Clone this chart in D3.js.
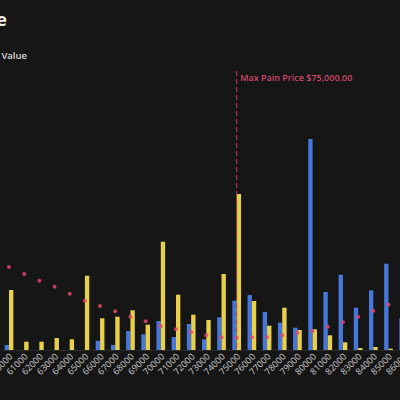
<!DOCTYPE html>
<html><head><meta charset="utf-8">
<script src="https://cdn.jsdelivr.net/npm/d3@7"></script>
<style>html,body{margin:0;padding:0;background:#161616;overflow:hidden}</style>
</head><body>
<svg id="c" width="400" height="400"></svg>
<script>
const strikes = [60000,61000,62000,63000,64000,65000,66000,67000,68000,69000,70000,71000,72000,73000,74000,75000,76000,77000,78000,79000,80000,81000,82000,83000,84000,85000,86000];
const callValues = [5,0,0,0,0,0,9.3,5,19,15.7,29,13,26,10.7,32.7,49.3,55,38,27.3,22.3,211,58,75.3,42.3,59.7,86.3,31.7];
const putValues = [60,8.3,8.3,12,10.7,74.3,31.7,33.3,39.7,25.3,108.3,55.3,35.3,30,76,156,49,24.3,42.3,20,20.7,14.7,7.7,2,3,1.3,1];
const painValues = [8.3,7.6,6.93,6.33,5.63,4.93,4.4,3.87,3.33,2.87,2.4,2.07,1.77,1.47,1.27,1.23,1.27,1.27,1.47,1.7,1.9,2.33,2.77,3.33,3.93,4.53,5.1];
const maxPain = 75000;
const titleText = "Open Interest By Strike Price";
const subtitleText = "Total Notional Value";
const maxPainLabel = "Max Pain Price $75,000.00";

const svg = d3.select("#c");
const W = 400, H = 400, base = 350;
svg.append("rect").attr("width", W).attr("height", H).attr("fill", "#161616");

const x = d3.scaleBand().domain(strikes).range([1.41, 411.27]).paddingInner(0.427).paddingOuter(0.2135);
const bw = x.bandwidth();
const xs = d3.scaleBand().domain(["calls","puts"]).range([0, bw]);
const y = d3.scaleLinear().domain([0, 250]).range([base, 100]);
const y2 = d3.scaleLinear().domain([0, 25]).range([base, 100]);

// title
svg.append("text").attr("x", 7).attr("y", 26).attr("text-anchor", "end")
  .attr("font-family", "Open Sans").attr("font-weight", 700).attr("font-size", 18)
  .attr("fill", "#f2f2f2").text(titleText);
svg.append("text").attr("x", 27).attr("y", 59).attr("text-anchor", "end")
  .attr("font-family", "Open Sans").attr("font-weight", 600).attr("font-size", 9.5)
  .attr("fill", "#dcdcdc").text(subtitleText);

// axis
const ax = svg.append("g").attr("transform", `translate(0,${base})`)
  .call(d3.axisBottom(x).tickSize(0).tickFormat(d => String(d)));
ax.select(".domain").attr("stroke", "#2a2a2a");
ax.selectAll("text")
  .attr("font-family", "Open Sans").attr("font-size", 9).attr("fill", "#c8c8c8")
  .attr("text-anchor", "end").attr("x", 0).attr("y", 0).attr("dy", "0.35em")
  .attr("transform", "translate(2,5) rotate(-45)");

// bars
const g = svg.append("g");
g.selectAll("rect.c").data(strikes).join("rect").attr("class", "c")
  .attr("x", d => x(d) + xs("calls")).attr("width", xs.bandwidth())
  .attr("y", (d,i) => y(callValues[i])).attr("height", (d,i) => base - y(callValues[i]))
  .attr("fill", "#4677d9");
g.selectAll("rect.p").data(strikes).join("rect").attr("class", "p")
  .attr("x", d => x(d) + xs("puts")).attr("width", xs.bandwidth())
  .attr("y", (d,i) => y(putValues[i])).attr("height", (d,i) => base - y(putValues[i]))
  .attr("fill", "#e8d04c");

// max pain line
const mx = x(maxPain) + bw / 2;
svg.append("line").attr("x1", mx).attr("x2", mx).attr("y1", 71).attr("y2", base)
  .attr("stroke", "#b8405c").attr("stroke-width", 1).attr("stroke-dasharray", "5,3");
svg.append("text").attr("x", mx + 3.5).attr("y", 81)
  .attr("font-family", "Open Sans").attr("font-weight", 600).attr("font-size", 9)
  .attr("fill", "#d0476b").text(maxPainLabel);

// pain dots
svg.selectAll("circle.d").data(strikes).join("circle").attr("class", "d")
  .attr("cx", d => x(d) + bw / 2).attr("cy", (d,i) => y2(painValues[i]))
  .attr("r", 2).attr("fill", "#e0466a").attr("opacity", 0.85);
</script>
</body></html>
